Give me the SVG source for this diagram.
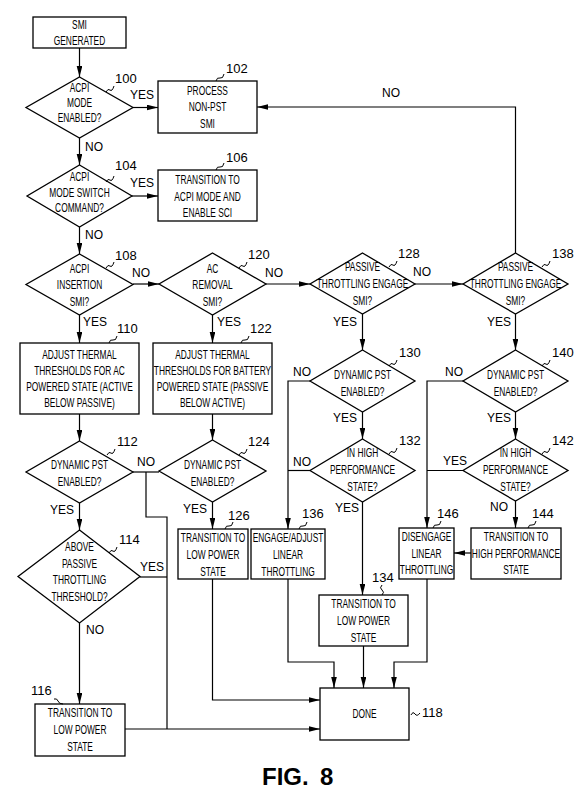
<svg xmlns="http://www.w3.org/2000/svg" width="584" height="793" viewBox="0 0 584 793">
<style>
.bg{fill:#fff}
.s{fill:#fff;stroke:#000;stroke-width:1.3}
.c{fill:none;stroke:#000;stroke-width:1.2}
.a{marker-end:url(#ah)}
.t{font-family:"Liberation Sans",Arial,sans-serif;font-size:12.5px;text-anchor:middle;fill:#000}
.n{font-family:"Liberation Sans",Arial,sans-serif;font-size:13px;fill:#000}
.l{font-family:"Liberation Sans",Arial,sans-serif;font-size:12px;fill:#000}
.w{fill:none;stroke:#000;stroke-width:1}
.f{font-family:"Liberation Sans",Arial,sans-serif;font-size:24px;font-weight:bold;fill:#000}
</style>
<defs>
<marker id="ah" markerUnits="userSpaceOnUse" markerWidth="12" markerHeight="6" refX="11" refY="2.8" orient="auto">
<path d="M0,0 L11,2.8 L0,5.6 z" fill="#000"/>
</marker>
</defs>
<rect class="bg" x="0" y="0" width="584" height="793"/>

<g id="connectors">
<path class="c a" d="M79.5,48 V77"/>
<path class="c a" d="M133,107.5 H158"/>
<path class="c a" d="M79.5,138 V165"/>
<path class="c a" d="M132,196 H158"/>
<path class="c a" d="M79.5,227 V254"/>
<path class="c a" d="M133,284 H159"/>
<path class="c a" d="M266,284 H310"/>
<path class="c a" d="M415,284 H463"/>
<path class="c a" d="M515.5,253 V107 H257"/>
<path class="c a" d="M79.5,315 V343"/>
<path class="c a" d="M212.5,315 V343"/>
<path class="c a" d="M79.5,414 V441"/>
<path class="c a" d="M212.5,414 V440"/>
<path class="c" d="M133,472 H159"/>
<path class="c" d="M146,472 V517 H167 V729"/>
<path class="c a" d="M79.5,503 V530"/>
<path class="c" d="M140,577 H167"/>
<path class="c a" d="M79.5,623 V704"/>
<path class="c a" d="M125,729 H320"/>
<path class="c a" d="M212.5,502 V529"/>
<path class="c a" d="M212.5,579 V700 H320"/>
<path class="c a" d="M362.5,314 V350"/>
<path class="c a" d="M362.5,412 V439"/>
<path class="c a" d="M310,381 H288 V529"/>
<path class="c" d="M310,470.5 H288"/>
<path class="c a" d="M362.5,502 V595"/>
<path class="c a" d="M288,579 V662 H334 V688"/>
<path class="c a" d="M363.5,646 V688"/>
<path class="c a" d="M427,579 V662 H394 V688"/>
<path class="c a" d="M515.5,314 V350"/>
<path class="c a" d="M515.5,412 V439"/>
<path class="c a" d="M463,381 H427 V528"/>
<path class="c" d="M463,470.5 H427"/>
<path class="c a" d="M515.5,501 V528"/>
<path class="c a" d="M471,553 H454"/>
<text class="l" x="130" y="99">YES</text>
<text class="l" x="85" y="151">NO</text>
<text class="l" x="130" y="187">YES</text>
<text class="l" x="85" y="239">NO</text>
<text class="l" x="132" y="277">NO</text>
<text class="l" x="83" y="326">YES</text>
<text class="l" x="265" y="277">NO</text>
<text class="l" x="217" y="326">YES</text>
<text class="l" x="413" y="276">NO</text>
<text class="l" x="333" y="326">YES</text>
<text class="l" x="487" y="326">YES</text>
<text class="l" x="382" y="97">NO</text>
<text class="l" x="293" y="376">NO</text>
<text class="l" x="333" y="422">YES</text>
<text class="l" x="445" y="376">NO</text>
<text class="l" x="487" y="422">YES</text>
<text class="l" x="293" y="466">NO</text>
<text class="l" x="335" y="512">YES</text>
<text class="l" x="443" y="465">YES</text>
<text class="l" x="490" y="511">NO</text>
<text class="l" x="137" y="466">NO</text>
<text class="l" x="50" y="514">YES</text>
<text class="l" x="183" y="513">YES</text>
<text class="l" x="140" y="571">YES</text>
<text class="l" x="86" y="634">NO</text>
</g>

<g id="smi">
<rect class="s" x="33" y="17" width="93" height="31"/>
<text class="t" transform="translate(79.5,0) scale(0.67,1)"><tspan x="0" y="29.5">SMI</tspan><tspan x="0" y="45.5">GENERATED</tspan></text>
</g>

<g id="n100">
<polygon class="s" points="79.5,77 133,107.5 79.5,138 26,107.5"/>
<text class="t" transform="translate(79.5,0) scale(0.67,1)"><tspan x="0" y="92.5">ACPI</tspan><tspan x="0" y="107.5">MODE</tspan><tspan x="0" y="122.5">ENABLED?</tspan></text>
<path class="w" d="M106,92 q2,-4 4,-2 t4,-4"/>
<text class="n" x="115" y="83">100</text>
</g>

<g id="n102">
<rect class="s" x="158" y="81" width="99" height="52"/>
<text class="t" transform="translate(207.5,0) scale(0.67,1)"><tspan x="0" y="95.5">PROCESS</tspan><tspan x="0" y="111.5">NON-PST</tspan><tspan x="0" y="128.5">SMI</tspan></text>
<path class="w" d="M216,81 q1,-4 4,-3 t4,-4"/>
<text class="n" x="226" y="73">102</text>
</g>

<g id="n104">
<polygon class="s" points="79.5,165 132,196 79.5,227 27,196"/>
<text class="t" transform="translate(79.5,0) scale(0.67,1)"><tspan x="0" y="181.5">ACPI</tspan><tspan x="0" y="197.5">MODE SWITCH</tspan><tspan x="0" y="212.5">COMMAND?</tspan></text>
<path class="w" d="M106,182 q2,-4 4,-2 t4,-4"/>
<text class="n" x="115" y="170">104</text>
</g>

<g id="n106">
<rect class="s" x="158" y="170" width="99" height="51"/>
<text class="t" transform="translate(207.5,0) scale(0.67,1)"><tspan x="0" y="184.5">TRANSITION TO</tspan><tspan x="0" y="201.5">ACPI MODE AND</tspan><tspan x="0" y="217.5">ENABLE SCI</tspan></text>
<path class="w" d="M216,170 q1,-4 4,-3 t4,-4"/>
<text class="n" x="226" y="162">106</text>
</g>

<g id="n108">
<polygon class="s" points="79.5,254 133,284.5 79.5,315 26,284.5"/>
<text class="t" transform="translate(79.5,0) scale(0.67,1)"><tspan x="0" y="273.5">ACPI</tspan><tspan x="0" y="289.5">INSERTION</tspan><tspan x="0" y="306.5">SMI?</tspan></text>
<path class="w" d="M106,268 q2,-4 4,-2 t4,-4"/>
<text class="n" x="115" y="260">108</text>
</g>

<g id="n120">
<polygon class="s" points="212.5,253 266,284 212.5,315 159,284"/>
<text class="t" transform="translate(212.5,0) scale(0.67,1)"><tspan x="0" y="273.5">AC</tspan><tspan x="0" y="289.5">REMOVAL</tspan><tspan x="0" y="306.5">SMI?</tspan></text>
<path class="w" d="M239,268 q2,-4 4,-2 t4,-4"/>
<text class="n" x="248" y="259">120</text>
</g>

<g id="n128">
<polygon class="s" points="362.5,253 415,284 362.5,314 310,284"/>
<text class="t" transform="translate(362.5,0) scale(0.67,1)"><tspan x="0" y="271.5">PASSIVE</tspan><tspan x="0" y="288.5">THROTTLING ENGAGE</tspan><tspan x="0" y="305.5">SMI?</tspan></text>
<path class="w" d="M389,267 q2,-4 4,-2 t4,-4"/>
<text class="n" x="398" y="258">128</text>
</g>

<g id="n138">
<polygon class="s" points="515.5,253 568,284 515.5,314 463,284"/>
<text class="t" transform="translate(515.5,0) scale(0.67,1)"><tspan x="0" y="271.5">PASSIVE</tspan><tspan x="0" y="288.5">THROTTLING ENGAGE</tspan><tspan x="0" y="305.5">SMI?</tspan></text>
<path class="w" d="M542,267 q2,-4 4,-2 t4,-4"/>
<text class="n" x="552" y="258">138</text>
</g>

<g id="n110">
<rect class="s" x="20" y="343" width="119" height="71"/>
<text class="t" transform="translate(79.5,0) scale(0.67,1)"><tspan x="0" y="359.5">ADJUST THERMAL</tspan><tspan x="0" y="375.5">THRESHOLDS FOR AC</tspan><tspan x="0" y="391.5">POWERED STATE (ACTIVE</tspan><tspan x="0" y="407.5">BELOW PASSIVE)</tspan></text>
<path class="w" d="M109,343 q1,-4 4,-3 t4,-4"/>
<text class="n" x="117" y="333">110</text>
</g>

<g id="n122">
<rect class="s" x="153" y="343" width="119" height="71"/>
<text class="t" transform="translate(212.5,0) scale(0.67,1)"><tspan x="0" y="359.5">ADJUST THERMAL</tspan><tspan x="0" y="375.5">THRESHOLDS FOR BATTERY</tspan><tspan x="0" y="391.5">POWERED STATE (PASSIVE</tspan><tspan x="0" y="407.5">BELOW ACTIVE)</tspan></text>
<path class="w" d="M241,343 q1,-4 4,-3 t4,-4"/>
<text class="n" x="250" y="333">122</text>
</g>

<g id="n112">
<polygon class="s" points="79.5,441 133,472 79.5,503 26,472"/>
<text class="t" transform="translate(79.5,0) scale(0.67,1)"><tspan x="0" y="469.5">DYNAMIC PST</tspan><tspan x="0" y="486.5">ENABLED?</tspan></text>
<path class="w" d="M107,455 q2,-4 4,-2 t4,-4"/>
<text class="n" x="117" y="446">112</text>
</g>

<g id="n124">
<polygon class="s" points="212.5,440 266,471 212.5,502 159,471"/>
<text class="t" transform="translate(212.5,0) scale(0.67,1)"><tspan x="0" y="469.5">DYNAMIC PST</tspan><tspan x="0" y="486.5">ENABLED?</tspan></text>
<path class="w" d="M239,455 q2,-4 4,-2 t4,-4"/>
<text class="n" x="248" y="446">124</text>
</g>

<g id="n114">
<polygon class="s" points="79.5,530 140,576.5 79.5,623 18,576.5"/>
<text class="t" transform="translate(79.5,0) scale(0.67,1)"><tspan x="0" y="551.5">ABOVE</tspan><tspan x="0" y="568.5">PASSIVE</tspan><tspan x="0" y="584.5">THROTTLING</tspan><tspan x="0" y="601.5">THRESHOLD?</tspan></text>
<path class="w" d="M109,553 q2,-4 4,-2 t4,-4"/>
<text class="n" x="119" y="544">114</text>
</g>

<g id="n116">
<rect class="s" x="35" y="704" width="90" height="52"/>
<text class="t" transform="translate(80,0) scale(0.67,1)"><tspan x="0" y="717.5">TRANSITION TO</tspan><tspan x="0" y="734.5">LOW POWER</tspan><tspan x="0" y="751.5">STATE</tspan></text>
<path class="w" d="M54,699 q3,-1 4,2 t5,3"/>
<text class="n" x="31" y="695">116</text>
</g>

<g id="n126">
<rect class="s" x="178" y="529" width="70" height="50"/>
<text class="t" transform="translate(213,0) scale(0.67,1)"><tspan x="0" y="542">TRANSITION TO</tspan><tspan x="0" y="559">LOW POWER</tspan><tspan x="0" y="576">STATE</tspan></text>
<path class="w" d="M225,529 q1,-4 4,-3 t4,-4"/>
<text class="n" x="228" y="520">126</text>
</g>

<g id="n130">
<polygon class="s" points="362.5,350 415,381 362.5,412 310,381"/>
<text class="t" transform="translate(362.5,0) scale(0.67,1)"><tspan x="0" y="379.5">DYNAMIC PST</tspan><tspan x="0" y="396.5">ENABLED?</tspan></text>
<path class="w" d="M389,366 q2,-4 4,-2 t4,-4"/>
<text class="n" x="399" y="357">130</text>
</g>

<g id="n140">
<polygon class="s" points="515.5,350 568,381 515.5,412 463,381"/>
<text class="t" transform="translate(515.5,0) scale(0.67,1)"><tspan x="0" y="379.5">DYNAMIC PST</tspan><tspan x="0" y="396.5">ENABLED?</tspan></text>
<path class="w" d="M542,366 q2,-4 4,-2 t4,-4"/>
<text class="n" x="552" y="357">140</text>
</g>

<g id="n132">
<polygon class="s" points="362.5,439 415,470.5 362.5,502 310,470.5"/>
<text class="t" transform="translate(362.5,0) scale(0.67,1)"><tspan x="0" y="457.5">IN HIGH</tspan><tspan x="0" y="474.5">PERFORMANCE</tspan><tspan x="0" y="491.5">STATE?</tspan></text>
<path class="w" d="M389,454 q2,-4 4,-2 t4,-4"/>
<text class="n" x="399" y="445">132</text>
</g>

<g id="n142">
<polygon class="s" points="515.5,439 568,470.5 515.5,501 463,470.5"/>
<text class="t" transform="translate(515.5,0) scale(0.67,1)"><tspan x="0" y="457.5">IN HIGH</tspan><tspan x="0" y="474.5">PERFORMANCE</tspan><tspan x="0" y="491.5">STATE?</tspan></text>
<path class="w" d="M542,454 q2,-4 4,-2 t4,-4"/>
<text class="n" x="552" y="445">142</text>
</g>

<g id="n136">
<rect class="s" x="251" y="529" width="74" height="50"/>
<text class="t" transform="translate(288,0) scale(0.67,1)"><tspan x="0" y="542">ENGAGE/ADJUST</tspan><tspan x="0" y="559">LINEAR</tspan><tspan x="0" y="576">THROTTLING</tspan></text>
<path class="w" d="M299,529 q1,-4 4,-3 t4,-4"/>
<text class="n" x="302" y="518">136</text>
</g>

<g id="n134">
<rect class="s" x="319" y="595" width="89" height="51"/>
<text class="t" transform="translate(363.5,0) scale(0.67,1)"><tspan x="0" y="608.5">TRANSITION TO</tspan><tspan x="0" y="625.5">LOW POWER</tspan><tspan x="0" y="642.5">STATE</tspan></text>
<path class="w" d="M382,585 q-3,3 0,5 t0,5"/>
<text class="n" x="372" y="582">134</text>
</g>

<g id="n146">
<rect class="s" x="399" y="528" width="55" height="51"/>
<text class="t" transform="translate(426.5,0) scale(0.67,1)"><tspan x="0" y="541.5">DISENGAGE</tspan><tspan x="0" y="558.5">LINEAR</tspan><tspan x="0" y="574.5">THROTTLING</tspan></text>
<path class="w" d="M433,528 q1,-4 4,-3 t4,-4"/>
<text class="n" x="437" y="518">146</text>
</g>

<g id="n144">
<rect class="s" x="471" y="528" width="90" height="51"/>
<text class="t" transform="translate(516,0) scale(0.67,1)"><tspan x="0" y="541.5">TRANSITION TO</tspan><tspan x="0" y="558.5">HIGH PERFORMANCE</tspan><tspan x="0" y="574.5">STATE</tspan></text>
<path class="w" d="M528,528 q1,-4 4,-3 t4,-4"/>
<text class="n" x="532" y="518">144</text>
</g>

<g id="n118">
<rect class="s" x="320" y="688" width="89" height="52"/>
<text class="t" transform="translate(364.5,0) scale(0.67,1)"><tspan x="0" y="718.5">DONE</tspan></text>
<path class="w" d="M411,715 q2,-4 4,-1 t5,-1"/>
<text class="n" x="422" y="717">118</text>
</g>

<text class="f" x="262" y="785">FIG.<tspan x="320">8</tspan></text>
</svg>
